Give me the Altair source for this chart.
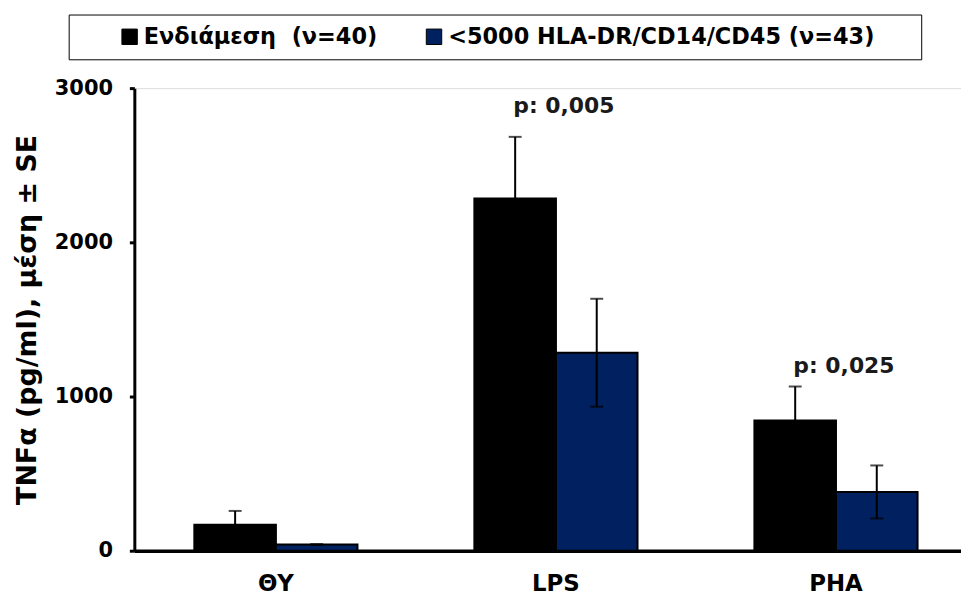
import altair as alt
import pandas as pd

categories = ["ΘΥ", "LPS", "PHA"]
groups = ["Ενδιάμεση\u00a0 (ν=40)", "<5000 HLA-DR/CD14/CD45 (ν=43)"]
colors = ["#000000", "#002060"]
mean_mid = [168, 2284, 845]
se_mid = [90, 400, 220]
mean_low = [40, 1284, 381]
se_low = [3, 350, 172]
p_cats = ["LPS", "PHA"]
p_texts = ["p: 0,005", "p: 0,025"]
p_y = [2839, 1155]
y_ticks = [0, 1000, 2000, 3000]

rows = []
for g, means, ses in [(groups[0], mean_mid, se_mid), (groups[1], mean_low, se_low)]:
    for c, m, s in zip(categories, means, ses):
        rows.append({"cat": c, "group": g, "mean": m, "lo": m - s, "hi": m + s})
df = pd.DataFrame(rows)
ann = pd.DataFrame({"cat": p_cats, "text": p_texts, "y": p_y})

FONT = "DejaVu Sans"

x = alt.X(
    "cat:N",
    sort=categories,
    scale=alt.Scale(paddingInner=0.4174, paddingOuter=0.1847, align=0.58),
    axis=alt.Axis(
        title=None, labelAngle=0, ticks=False, labelPadding=22,
        labelFontSize=23, labelFont=FONT, labelFontWeight="bold", labelColor="black",
        domainColor="black", domainWidth=3.5,
    ),
)
xo = alt.XOffset("group:N", sort=groups, scale=alt.Scale(paddingInner=0, paddingOuter=0))
yscale = alt.Scale(domain=[0, 3000], nice=False)

bars = alt.Chart(df).mark_bar(stroke="black", strokeWidth=2).encode(
    x=x,
    xOffset=xo,
    y=alt.Y(
        "mean:Q",
        scale=yscale,
        axis=alt.Axis(
            values=y_ticks, format="d", title="TNFα (pg/ml), μέση ± SE", titleFont=FONT,
            titleFontSize=27, titleFontWeight="bold", titleColor="black", titlePadding=13,
            labelFont=FONT, labelFontSize=21, labelFontWeight="bold", labelColor="black",
            labelPadding=17, tickSize=5, tickWidth=3, tickColor="black",
            domainColor="black", domainWidth=3, grid=False,
        ),
    ),
    color=alt.Color(
        "group:N",
        sort=groups,
        scale=alt.Scale(domain=groups, range=colors),
        legend=alt.Legend(
            title=None, orient="none", legendX=-66, legendY=-74, direction="horizontal",
            labelFont=FONT, labelFontSize=22.5, labelFontWeight="bold", labelColor="black",
            labelLimit=700, labelOffset=3, symbolType="square", symbolSize=240,
            symbolStrokeColor="black", symbolStrokeWidth=1, symbolOpacity=1,
            columnPadding=6, strokeColor="black", padding=11, symbolOffset=39,
            fillColor="white",
            labelExpr="length(datum.label) > 22 ? datum.label + '\u2800\u2800' : datum.label",
        ),
    ),
)

rules = alt.Chart(df).mark_rule(color="black", strokeWidth=2).encode(
    x=alt.X("cat:N", sort=categories), xOffset=xo,
    y=alt.Y("lo:Q", scale=yscale), y2="hi:Q",
)
caps_hi = alt.Chart(df).mark_tick(orient="horizontal", size=13, thickness=2, color="black").encode(
    x=alt.X("cat:N", sort=categories), xOffset=xo, y=alt.Y("hi:Q", scale=yscale),
)
caps_lo = alt.Chart(df).mark_tick(orient="horizontal", size=13, thickness=2, color="black").encode(
    x=alt.X("cat:N", sort=categories), xOffset=xo, y=alt.Y("lo:Q", scale=yscale),
)
labels = alt.Chart(ann).mark_text(
    font=FONT, fontSize=22, fontWeight="bold", color="#1a1a1a", dx=8, baseline="alphabetic"
).encode(
    x=alt.X("cat:N", sort=categories), y=alt.Y("y:Q", scale=yscale), text="text:N",
)

chart = (
    alt.layer(bars, rules, caps_hi, caps_lo, labels)
    .properties(width=831, height=465, padding={"left": 5, "top": 4, "right": 0, "bottom": 5})
    .configure_view(stroke=None)
    .configure(background="white")
)

chart.save("out.html", embed_options={"renderer": "svg", "actions": False})
